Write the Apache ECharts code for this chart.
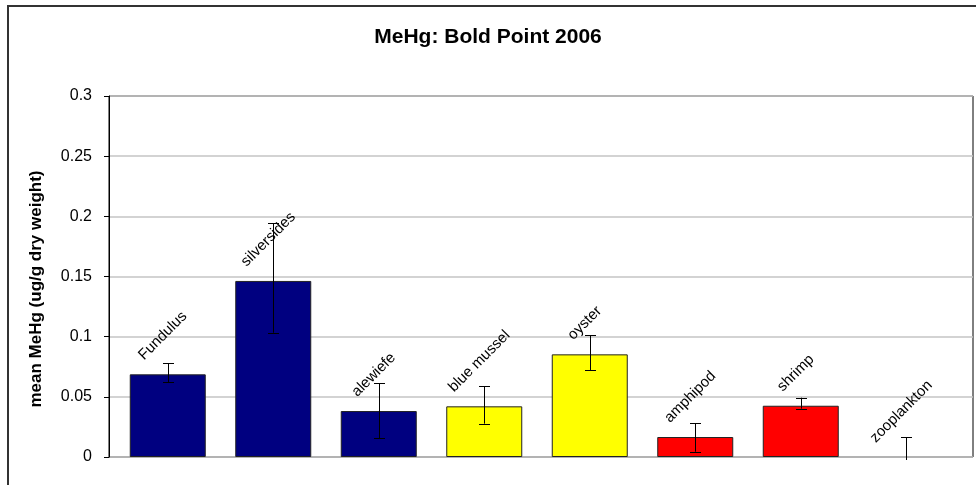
<!DOCTYPE html>
<html><head><meta charset="utf-8">
<script src="https://cdn.jsdelivr.net/npm/echarts@6/dist/echarts.min.js"></script>
<style>html,body{margin:0;padding:0;background:#fff}#c{width:976px;height:485px}</style>
</head><body><div id="c"></div>
<script>
// ---- data ----
const categories = ['Fundulus', 'silversides', 'alewiefe', 'blue mussel', 'oyster', 'amphipod', 'shrimp', 'zooplankton'];
const meanValues = [0.0687, 0.1463, 0.0382, 0.0421, 0.0853, 0.0166, 0.0426, 0];
const errorPlus  = [0.0091, 0.0480, 0.0230, 0.0166, 0.0158, 0.0114, 0.0067, 0.0164];
const errorMinus = [0.0064, 0.0430, 0.0227, 0.0144, 0.0130, 0.0122, 0.0024, 0.0164];
const groups     = ['fish', 'fish', 'fish', 'bivalve', 'bivalve', 'crustacean', 'crustacean', 'crustacean'];
const yTicks = [0, 0.05, 0.1, 0.15, 0.2, 0.25, 0.3];

// ---- styles ----
const groupColor = { fish: '#000080', bivalve: '#ffff00', crustacean: '#ff0000' };
const FONT = '"Liberation Sans", Arial, sans-serif';
const LABEL_SIZE = 15;

const ctx = document.createElement('canvas').getContext('2d');
ctx.font = LABEL_SIZE + 'px "Liberation Sans"';
function labelDistance(name) {
  const w = ctx.measureText(name).width;
  return 18 + (w + 0.7 * LABEL_SIZE) / (2 * Math.SQRT2);
}

const yMin = yTicks[0], yMax = yTicks[yTicks.length - 1], yStep = yTicks[1] - yTicks[0];

const chart = echarts.init(document.getElementById('c'), null, { renderer: 'canvas' });
chart.setOption({
  animation: false,
  backgroundColor: '#fff',
  title: {
    text: 'MeHg: Bold Point 2006',
    left: 'center',
    top: 22,
    textStyle: { fontFamily: FONT, fontSize: 21, fontWeight: 'bold', color: '#000' }
  },
  graphic: [{
    type: 'rect', silent: true, z: 100,
    shape: { x: 8, y: 6, width: 1000, height: 500 },
    style: { fill: null, stroke: '#333', lineWidth: 2 }
  }],
  grid: [
    { left: 115, top: 96, width: 844, height: 361, show: false },
    { left: 109, top: 96, width: 864, height: 361, show: true, borderColor: '#000', borderWidth: 1, backgroundColor: 'transparent' }
  ],
  xAxis: [
    { type: 'category', gridIndex: 0, data: categories,
      axisLine: { show: false }, axisTick: { show: false }, axisLabel: { show: false }, splitLine: { show: false } },
    { type: 'value', gridIndex: 1, show: false }
  ],
  yAxis: [
    { type: 'value', gridIndex: 0, min: yMin, max: yMax, interval: yStep, show: false, splitLine: { show: false } },
    { type: 'value', gridIndex: 1, min: yMin, max: yMax, interval: yStep,
      axisLine: { show: true, lineStyle: { color: '#000', width: 1 } },
      axisTick: { show: true, length: 5, lineStyle: { color: '#000' } },
      axisLabel: { margin: 17, fontFamily: FONT, fontSize: 16, color: '#000' },
      splitLine: { show: true, lineStyle: { color: '#c4c4c4', width: 1.5 } },
      name: 'mean MeHg (ug/g dry weight)',
      nameLocation: 'middle',
      nameGap: 64,
      nameTextStyle: { fontFamily: FONT, fontSize: 17, fontWeight: 'bold', color: '#000', padding: [0, 25, 0, 0] }
    }
  ],
  series: [
    {
      type: 'bar', xAxisIndex: 0, yAxisIndex: 0,
      barWidth: 76,
      data: categories.map((c, i) => ({
        value: meanValues[i],
        itemStyle: { color: groupColor[groups[i]], borderWidth: meanValues[i] === 0 ? 0 : 1 },
        label: { distance: labelDistance(c) }
      })),
      itemStyle: { borderColor: '#222', borderWidth: 1 },
      label: {
        show: true, position: 'top', rotate: 45,
        align: 'center', verticalAlign: 'middle', offset: [-7, 0],
        formatter: '{b}', fontFamily: FONT, fontSize: LABEL_SIZE, color: '#000'
      }
    },
    {
      type: 'custom', xAxisIndex: 0, yAxisIndex: 0, z: 5,
      data: categories.map((c, i) => [i, Math.max(yMin, meanValues[i] - errorMinus[i]), meanValues[i] + errorPlus[i], meanValues[i] - errorMinus[i] < yMin ? 1 : 0]),
      renderItem(params, api) {
        const x = Math.round(api.coord([api.value(0), 0])[0]) + 0.5;
        const yl = api.coord([api.value(0), api.value(1)])[1];
        const yh = api.coord([api.value(0), api.value(2)])[1];
        const clipped = api.value(3) === 1;
        const hw = 5.5;
        const st = { stroke: '#000', lineWidth: 1 };
        const children = [
          { type: 'line', shape: { x1: x, y1: yh, x2: x, y2: clipped ? yl + 3 : yl }, style: st },
          { type: 'line', shape: { x1: x - hw, y1: Math.round(yh) + 0.5, x2: x + hw, y2: Math.round(yh) + 0.5 }, style: st }
        ];
        if (!clipped) children.push({ type: 'line', shape: { x1: x - hw, y1: Math.round(yl) + 0.5, x2: x + hw, y2: Math.round(yl) + 0.5 }, style: st });
        return { type: 'group', children };
      }
    }
  ]
});
</script>
</body></html>
